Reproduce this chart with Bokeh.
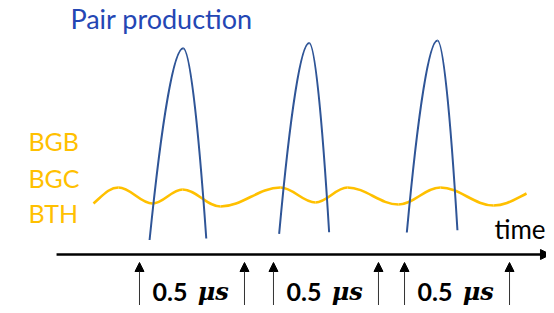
import numpy as np
from bokeh.plotting import figure
from bokeh.models import Arrow, NormalHead, Range1d
from bokeh.core.properties import value
from bokeh.embed import file_html
from bokeh.resources import INLINE

# ---------------- data (x in microseconds, y in arbitrary amplitude units) ----------
# Pair-production pulses: start (bottom-left), peak, end (bottom-right)
pulse_x_start = [0.048, 0.665, 1.273]
pulse_y_start = [14.5, 20.7, 22.0]
pulse_x_peak = [0.208, 0.808, 1.419]
pulse_y_peak = [206.3, 211.5, 214.0]
pulse_x_end = [0.318, 0.903, 1.514]
pulse_y_end = [16.0, 22.3, 24.3]

# Background (BGB / BGC / BTH) wave: start, extrema, end
wave_x = [-0.219, -0.100, 0.062, 0.205, 0.386, 0.671, 0.838, 0.990, 1.233, 1.433, 1.686, 1.843]
wave_y = [51, 67, 51, 65, 48, 67, 52, 67, 50, 67, 49, 61]

# 0.5 microsecond windows
window_start = [0.0, 0.638, 1.262]
window_length = 0.5
window_label_num = "0.5"
window_label_unit = "μs"

bg_labels = ["BGB", "BGC", "BTH"]
bg_label_y = [104, 67, 32]

time_axis_start = -0.395
time_axis_end = 1.957

# ---------------- figure ----------------
W, H = 546, 305
x0_range, x1_range = -0.6619, 1.9381
y0_range, y1_range = -51, 254
TEXT_DY = 9.5  # baseline correction for the text glyph

p = figure(width=W, height=H, output_backend="svg", toolbar_location=None,
           x_range=Range1d(x0_range, x1_range), y_range=Range1d(y0_range, y1_range),
           min_border=0, outline_line_color=None)
p.axis.visible = False
p.grid.visible = False
p.background_fill_color = "white"
p.border_fill_color = "white"

# ---- wave as cubic beziers with horizontal tangents at extrema ----
wx = np.array(wave_x, dtype=float)
wy = np.array(wave_y, dtype=float)
k = 0.3642
n = len(wx)
bx0, by0, bx1, by1, c0x, c0y, c1x, c1y = [], [], [], [], [], [], [], []
for i in range(n - 1):
    ax_, ay_, bx_, byy = wx[i], wy[i], wx[i + 1], wy[i + 1]
    dx, dy = bx_ - ax_, byy - ay_
    if i == 0:
        cpa = (ax_ + dx * 0.4, ay_ + dy * 0.55)
    else:
        cpa = (ax_ + k * dx, ay_)
    if i + 1 == n - 1:
        cpb = (bx_ - dx * 0.4, byy - dy * 0.55)
    else:
        cpb = (bx_ - k * dx, byy)
    bx0.append(ax_); by0.append(ay_); bx1.append(bx_); by1.append(byy)
    c0x.append(cpa[0]); c0y.append(cpa[1]); c1x.append(cpb[0]); c1y.append(cpb[1])
p.bezier(x0=bx0, y0=by0, x1=bx1, y1=by1, cx0=c0x, cy0=c0y, cx1=c1x, cy1=c1y,
         line_color="#FFC000", line_width=2.6)

# ---- pulses as two beziers each ----
px0, py0, px1, py1, q0x, q0y, q1x, q1y = [], [], [], [], [], [], [], []
for xs, ys, xp, yp, xe, ye in zip(pulse_x_start, pulse_y_start, pulse_x_peak,
                                  pulse_y_peak, pulse_x_end, pulse_y_end):
    for (xa, ya) in [(xs, ys), (xe, ye)]:
        hw = xp - xa
        cp2 = (xp - 0.28 * hw, yp)
        cp1 = (xa + 0.5 * (xp - 0.28 * hw - xa), ya + 0.62 * (yp - ya))
        px0.append(xa); py0.append(ya); px1.append(xp); py1.append(yp)
        q0x.append(cp1[0]); q0y.append(cp1[1]); q1x.append(cp2[0]); q1y.append(cp2[1])
p.bezier(x0=px0, y0=py0, x1=px1, y1=py1, cx0=q0x, cy0=q0y, cx1=q1x, cy1=q1y,
         line_color="#2F5597", line_width=2)

# ---- time axis ----
p.add_layout(Arrow(x_start=time_axis_start, y_start=0, x_end=time_axis_end, y_end=0,
                   line_color="black", line_width=2.6,
                   end=NormalHead(size=10, fill_color="black", line_color="black", line_width=1)))

# ---- window arrows ----
for ws in window_start:
    for xa in (ws, ws + window_length):
        p.add_layout(Arrow(x_start=xa, y_start=-70, x_end=xa, y_end=-8,
                           line_color="#333333", line_width=1,
                           end=NormalHead(size=9, fill_color="black", line_color="black",
                                          line_width=1)))

# ---- window labels ----
lbl_y = -46.7 + TEXT_DY
lbl_x = [ws + 0.062 for ws in window_start]
p.text(x=lbl_x, y=[lbl_y] * 3, text=[window_label_num] * 3, text_font=value("Lato"),
       text_font_style="bold", text_font_size="25px", text_color="black",
       text_align="left", text_baseline="alphabetic")
unit_x = [ws + 0.277 for ws in window_start]
p.text(x=unit_x, y=[lbl_y] * 3, text=[window_label_unit] * 3, text_font=value("DejaVu Serif"),
       text_font_style="bold italic", text_font_size="24px", text_color="black",
       text_align="left", text_baseline="alphabetic")

# ---- other labels ----
p.text(x=[-0.329], y=[226.7 + TEXT_DY], text=["Pair production"], text_font=value("Lato"),
       text_font_size="27px", text_color="#2446B4", text_align="left",
       text_baseline="alphabetic")
p.text(x=[-0.529] * 3, y=[v + TEXT_DY for v in bg_label_y], text=bg_labels,
       text_font=value("Lato"), text_font_size="25px", text_color="#FFC000",
       text_align="left", text_baseline="alphabetic")
p.text(x=[1.690], y=[15.7 + TEXT_DY], text=["time"], text_font=value("Lato"),
       text_font_size="26px", text_color="black", text_align="left",
       text_baseline="alphabetic")

open("out.html", "w").write(file_html(p, INLINE))
